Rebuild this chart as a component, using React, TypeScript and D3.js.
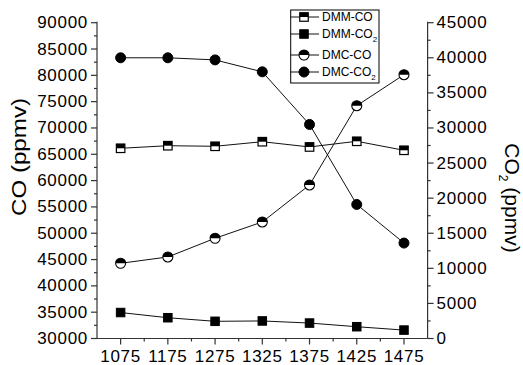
import React from "react";
import * as d3 from "d3";

const categories = ["1075", "1175", "1275", "1325", "1375", "1425", "1475"];
const dmmCO = [66140, 66630, 66520, 67390, 66390, 67470, 65760];
const dmmCO2 = [3700, 2960, 2450, 2500, 2200, 1680, 1200];
const dmcCO = [44290, 45490, 49040, 52140, 59170, 74230, 80120];
const dmcCO2 = [40000, 40000, 39700, 38000, 30500, 19100, 13600];
const leftTicks = d3.range(30000, 90001, 5000);
const rightTicks = d3.range(0, 45001, 5000);

const W = 523, H = 365;
const L = 97, R = 427.6, T = 22.7, B = 338.5;
const FONT = "Arial, 'Liberation Sans', Helvetica, sans-serif";
const AX = "#333";

type Marker = "halfSquare" | "square" | "halfCircle" | "circle";

function MarkerShape({ type, cx, cy }: { type: Marker; cx: number; cy: number }) {
  const s = 8.5, r = 5;
  if (type === "square")
    return <rect x={cx - s / 2} y={cy - s / 2} width={s} height={s} fill="#000" stroke="#000" strokeWidth={1} />;
  if (type === "circle") return <circle cx={cx} cy={cy} r={r} fill="#000" stroke="#000" strokeWidth={1} />;
  if (type === "halfSquare")
    return (
      <g>
        <rect x={cx - s / 2} y={cy - s / 2} width={s} height={s} fill="#fff" stroke="#000" strokeWidth={1.2} />
        <rect x={cx - s / 2} y={cy - s / 2} width={s} height={s / 2} fill="#000" />
      </g>
    );
  const arc = d3.arc()({ innerRadius: 0, outerRadius: r, startAngle: -Math.PI / 2, endAngle: Math.PI / 2 } as any) as string;
  return (
    <g>
      <circle cx={cx} cy={cy} r={r} fill="#fff" stroke="#000" strokeWidth={1.1} />
      <path d={arc} transform={`translate(${cx},${cy})`} fill="#000" />
    </g>
  );
}

export default function App() {
  const x = d3.scaleBand<string>().domain(categories).range([L, R]).paddingInner(0).paddingOuter(0);
  const cx = (c: string) => (x(c) as number) + x.bandwidth() / 2;
  const yL = d3.scaleLinear().domain([30000, 90000]).range([B, T]);
  const yR = d3.scaleLinear().domain([0, 45000]).range([B, T]);

  const series: { name: string; vals: number[]; y: d3.ScaleLinear<number, number>; m: Marker; sub: boolean }[] = [
    { name: "DMM-CO", vals: dmmCO, y: yL, m: "halfSquare", sub: false },
    { name: "DMM-CO", vals: dmmCO2, y: yR, m: "square", sub: true },
    { name: "DMC-CO", vals: dmcCO, y: yL, m: "halfCircle", sub: false },
    { name: "DMC-CO", vals: dmcCO2, y: yR, m: "circle", sub: true },
  ];

  const leftMinor = d3.range(32500, 90000, 5000);
  const rightMinor = d3.range(2500, 45000, 5000);
  const legendRows = [17, 34, 55, 72];

  return (
    <svg width={W} height={H} style={{ position: "absolute", left: 0, top: 0, background: "#fff" }} fontFamily={FONT}>
      <rect x={0} y={0} width={W} height={H} fill="#fff" />
      {series.map((s, i) => {
        const line = d3.line<number>().x((_, j) => cx(categories[j])).y((v) => s.y(v));
        return <path key={"l" + i} d={line(s.vals) as string} fill="none" stroke="#111" strokeWidth={1} />;
      })}
      {series.map((s, i) =>
        s.vals.map((v, j) => <MarkerShape key={`m${i}-${j}`} type={s.m} cx={cx(categories[j])} cy={s.y(v)} />)
      )}

      <g stroke={AX} strokeWidth={1.2}>
        <line x1={L} x2={L} y1={T - 1} y2={B} />
        <line x1={R} x2={R} y1={T - 1} y2={B} />
        <line x1={L} x2={R} y1={B} y2={B} />
        {leftTicks.map((t) => <line key={"lt" + t} x1={L - 6} x2={L} y1={yL(t)} y2={yL(t)} />)}
        {leftMinor.map((t) => <line key={"lm" + t} x1={L - 3} x2={L} y1={yL(t)} y2={yL(t)} />)}
        {rightTicks.map((t) => <line key={"rt" + t} x1={R} x2={R + 6} y1={yR(t)} y2={yR(t)} />)}
        {rightMinor.map((t) => <line key={"rm" + t} x1={R} x2={R + 3} y1={yR(t)} y2={yR(t)} />)}
        {categories.map((c) => <line key={"bt" + c} x1={cx(c)} x2={cx(c)} y1={B} y2={B + 6} />)}
        {categories.slice(1).map((c) => <line key={"bm" + c} x1={x(c) as number} x2={x(c) as number} y1={B} y2={B + 3} />)}
      </g>

      <g fontSize={17} fill="#000" letterSpacing={0.7}>
        {leftTicks.map((t) => (
          <text key={"ltl" + t} x={L - 9} y={yL(t)} textAnchor="end" dominantBaseline="central">{t}</text>
        ))}
        {rightTicks.map((t) => (
          <text key={"rtl" + t} x={R + 9} y={yR(t)} textAnchor="start" dominantBaseline="central">{t}</text>
        ))}
        {categories.map((c) => (
          <text key={"btl" + c} x={cx(c)} y={362} textAnchor="middle">{c}</text>
        ))}
      </g>

      <text transform="translate(26,157) rotate(-90)" textAnchor="middle" fontSize={20} textLength={118} lengthAdjust="spacingAndGlyphs">
        CO (ppmv)
      </text>
      <text transform="translate(505,198) rotate(90)" textAnchor="middle" fontSize={21}>
        <tspan>CO</tspan>
        <tspan fontSize={12} dy={6}>2</tspan>
        <tspan dy={-6}> (ppmv)</tspan>
      </text>

      <rect x={290.7} y={10} width={88.3} height={73} fill="#fff" stroke="#000" strokeWidth={1} />
      {series.map((s, i) => (
        <g key={"lg" + i}>
          <line x1={290.7} x2={319} y1={legendRows[i]} y2={legendRows[i]} stroke="#111" strokeWidth={1} />
          <MarkerShape type={s.m} cx={304} cy={legendRows[i]} />
          <text x={322} y={legendRows[i]} dominantBaseline="central" fontSize={12}>
            {s.name}
            {s.sub ? <tspan fontSize={8} dy={5}>2</tspan> : null}
          </text>
        </g>
      ))}
    </svg>
  );
}
